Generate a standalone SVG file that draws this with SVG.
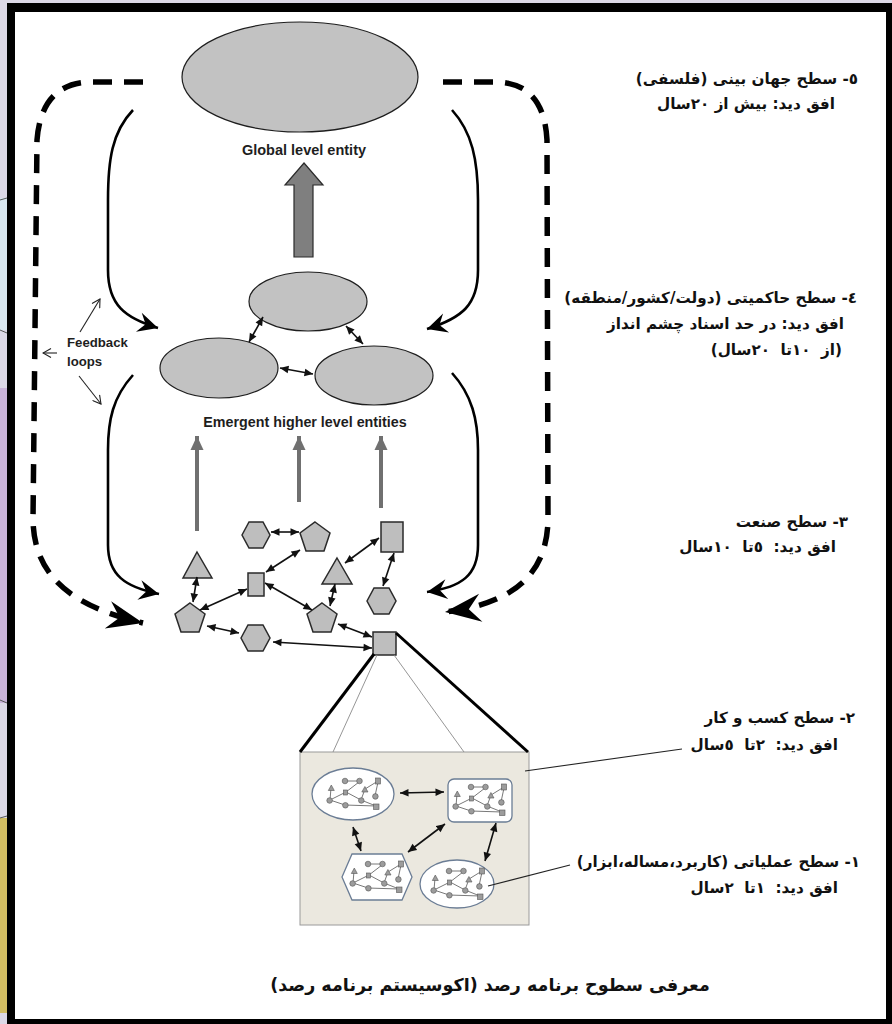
<svg xmlns="http://www.w3.org/2000/svg" width="892" height="1024" viewBox="0 0 892 1024">
<style>
.ell{fill:#c2c2c2;stroke:#1e1e1e;stroke-width:1.2}
.shp{fill:#bebebe;stroke:#2a2a2a;stroke-width:1.5}
.dbl{stroke:#111;stroke-width:1.6;fill:none;marker-start:url(#ah);marker-end:url(#ah)}
.dash{stroke:#000;stroke-width:5.5;fill:none;stroke-dasharray:19 12}
.solid{stroke:#000;stroke-width:2.6;fill:none;marker-end:url(#barb)}
.up{stroke:#707070;stroke-width:4;marker-end:url(#gh)}
.thin{stroke:#222;stroke-width:1.1;fill:none;marker-end:url(#open)}
.en{font-family:"Liberation Sans",Arial,sans-serif;font-weight:bold;fill:#1e1e1e}
.fa{font-family:"DejaVu Sans","Noto Sans",sans-serif;font-weight:bold;font-size:15.2px;fill:#111}
.cl{fill:#fff;stroke:#6b7d95;stroke-width:1.3}
.mn{stroke:#555;stroke-width:0.8;fill:none}
.md{fill:#9c9c9c;stroke:#555;stroke-width:0.6}
</style>
<defs>
<marker id="ah" markerUnits="userSpaceOnUse" viewBox="-9 -4.5 10 9" markerWidth="10" markerHeight="9" refX="0" refY="0" orient="auto-start-reverse"><path d="M0,0 L-8.5,-3.8 L-8.5,3.8 Z" fill="#111"/></marker>
<marker id="barb" markerUnits="userSpaceOnUse" viewBox="-22 -11 24 22" markerWidth="24" markerHeight="22" refX="0" refY="0" orient="auto"><path d="M0,0 L-20,-10 L-13,0 L-20,10 Z" fill="#000"/></marker>
<marker id="big" markerUnits="userSpaceOnUse" viewBox="-40 -16 42 32" markerWidth="42" markerHeight="32" refX="0" refY="0" orient="auto"><path d="M0,0 L-36,-14 L-24,0 L-36,14 Z" fill="#000"/></marker>
<marker id="gh" markerUnits="userSpaceOnUse" viewBox="-15 -7 16 14" markerWidth="16" markerHeight="14" refX="0" refY="0" orient="auto"><path d="M0,0 L-14,-6.5 L-14,6.5 Z" fill="#707070"/></marker>
<marker id="open" markerUnits="userSpaceOnUse" viewBox="-9 -5 10 10" markerWidth="10" markerHeight="10" refX="0" refY="0" orient="auto"><path d="M-8,-4.5 L0,0 L-8,4.5" fill="none" stroke="#222" stroke-width="1.1"/></marker>
<symbol id="mini" viewBox="0 0 56 34" width="56" height="34">
<g class="mn">
<path d="M19,4 L33,4 M33,5 L20,15 M52,4 L39,12 M52,5 L49,19 M5,11 L4,23 M20,15 L4,23 M20,15 L35,23 M39,12 L35,23 M4,23 L19,28 M35,23 L50,29 M19,28 L50,29"/>
</g>
<g class="md">
<circle cx="19" cy="4" r="2.8"/><circle cx="33.5" cy="4" r="2.8"/><rect x="49.5" y="1" width="5" height="6"/>
<path d="M5.3,8 L8.3,13.5 L2.3,13.5 Z"/><rect x="17.5" y="13" width="4" height="5"/><path d="M38.9,9.5 L42,15 L35.8,15 Z"/>
<circle cx="49.4" cy="19.4" r="2.8"/><circle cx="3.6" cy="23.5" r="2.8"/><circle cx="35.3" cy="23.5" r="2.8"/>
<circle cx="19.4" cy="28.3" r="2.8"/><rect x="47.5" y="27" width="5.5" height="5.5"/>
</g>
</symbol>
</defs>

<g id="frame">
<rect x="0" y="0" width="892" height="1024" fill="#dcd8e6"/>
<rect x="0" y="198" width="7" height="132" fill="#d9e7f0"/>
<rect x="0" y="388" width="7" height="315" fill="#c9b3d8"/>
<rect x="0" y="818" width="7" height="195" fill="#d2bd62"/>
<path d="M0,200 L7,198 M0,330 L7,333 M0,700 L7,703 M0,818 L7,816" stroke="#555" stroke-width="1"/>
<rect x="7" y="3" width="885" height="1021" fill="#000"/>
<rect x="15" y="12" width="871" height="1007" fill="#fff"/>
</g>

<g id="global-entity">
<ellipse class="ell" cx="300" cy="77" rx="118" ry="55"/>
<text class="en" x="304" y="155" font-size="14.5" text-anchor="middle">Global level entity</text>
</g>
<g id="global-arrow">
<polygon points="304,163 323,185 313,185 313,257 294,257 294,185 285,185" fill="#7f7f7f" stroke="#2a2a2a" stroke-width="1.2"/>
</g>
<g id="emergent-top"><ellipse class="ell" cx="308" cy="301.5" rx="59" ry="29.5"/></g>
<g id="emergent-left"><ellipse class="ell" cx="219" cy="368" rx="59" ry="30"/></g>
<g id="emergent-right"><ellipse class="ell" cx="374" cy="375.5" rx="59" ry="29.5"/></g>
<g id="emergent-label"><text class="en" x="305" y="427" font-size="14.3" text-anchor="middle">Emergent higher level entities</text></g>
<g id="feedback-label">
<text class="en" x="67" y="347" font-size="13.2" fill="#333">Feedback</text>
<text class="en" x="67" y="366" font-size="13.2" fill="#333">loops</text>
</g>

<g id="hex1"><polygon class="shp" points="242,535 249,522 263,522 270,535 263,548 249,548"/></g>
<g id="pent1"><polygon class="shp" points="315,522 330,533 324,551 306,551 300,533"/></g>
<g id="rectTR"><rect class="shp" x="381" y="522" width="22" height="30"/></g>
<g id="triL"><polygon class="shp" points="197,552 212,578 183,578"/></g>
<g id="rectC"><rect class="shp" x="248" y="573" width="16" height="23"/></g>
<g id="triM"><polygon class="shp" points="337,558 352,584 322,584"/></g>
<g id="hexR"><polygon class="shp" points="367,601 374,588 389,588 396,601 389,614 374,614"/></g>
<g id="pentL"><polygon class="shp" points="190,603 205,614 199,632 181,632 175,614"/></g>
<g id="pentM"><polygon class="shp" points="322,603 337,614 331,632 313,632 307,614"/></g>
<g id="hexB"><polygon class="shp" points="241,638 248,625 263,625 270,638 263,651 248,651"/></g>
<g id="sqB"><rect class="shp" x="373" y="632" width="23" height="23"/></g>

<g id="inset">
<rect x="300" y="752" width="229" height="173" fill="#ebe8df" stroke="#9a9a9a" stroke-width="1"/>
</g>
<g id="cluster-tl"><ellipse class="cl" cx="353" cy="794" rx="41" ry="26"/><use href="#mini" x="326" y="777"/></g>
<g id="cluster-tr"><rect class="cl" x="448" y="779" width="64" height="43" rx="6"/><use href="#mini" x="452" y="783"/></g>
<g id="cluster-bl"><polygon class="cl" points="342,877 352,854 402,854 412,877 402,900 352,900"/><use href="#mini" x="349" y="860"/></g>
<g id="cluster-br"><ellipse class="cl" cx="457" cy="884" rx="37" ry="24"/><use href="#mini" x="430" y="867"/></g>

<g id="connectors">
<path class="dash" d="M143,82 L92,82 C58,82 40,102 37,140 L33,520 C34,575 70,606 143,623" marker-end="url(#big)"/>
<path class="dash" d="M443,82 L495,82 C528,82 545,102 547,140 L548,520 C547,575 512,604 445,612" marker-end="url(#big)"/>
<path class="solid" d="M133,110 C112,132 108,160 108,200 L108,270 C108,305 125,318 158,328"/>
<path class="solid" d="M133,375 C113,397 108,420 108,450 L108,545 C108,575 125,587 159,594"/>
<path class="solid" d="M452,110 C472,132 478,160 478,200 L478,270 C478,305 462,318 427,329"/>
<path class="solid" d="M452,373 C472,395 478,420 478,450 L478,545 C478,575 462,587 427,592"/>
<path class="thin" d="M80,332 L100,299"/>
<path class="thin" d="M57,353 L43,353"/>
<path class="thin" d="M79,376 L101,404"/>
<path d="M263,317 L249,342" class="dbl"/>
<path d="M346,326 L363,344" class="dbl"/>
<path d="M280,368 L313,374" class="dbl"/>
<path d="M197,531 L197,436" class="up"/>
<path d="M299,502 L299,436" class="up"/>
<path d="M381,508 L381,436" class="up"/>
<path d="M271,532 L299,532" class="dbl"/>
<path d="M300,550 L266,572" class="dbl"/>
<path d="M379,538 L345,563" class="dbl"/>
<path d="M394,553 L383,586" class="dbl"/>
<path d="M197,577 L193,602" class="dbl"/>
<path d="M247,589 L200,610" class="dbl"/>
<path d="M265,583 L312,610" class="dbl"/>
<path d="M335,584 L330,606" class="dbl"/>
<path d="M207,626 L239,633" class="dbl"/>
<path d="M338,624 L372,637" class="dbl"/>
<path d="M273,642 L372,648" class="dbl"/>
<path d="M374,654 L300,752" stroke="#000" stroke-width="3"/>
<path d="M396,633 L528,752" stroke="#000" stroke-width="3"/>
<path d="M377,655 L333,752" stroke="#8a8a8a" stroke-width="0.9"/>
<path d="M394,655 L464,752" stroke="#8a8a8a" stroke-width="0.9"/>
<path d="M400,793 L444,792" class="dbl"/>
<path d="M353,827 L361,851" class="dbl"/>
<path d="M445,824 L408,852" class="dbl"/>
<path d="M496,823 L485,861" class="dbl"/>
<path d="M525,771 L682,749" stroke="#222" stroke-width="1.1"/>
<path d="M488,886 L570,865" stroke="#222" stroke-width="1.1"/>
</g>

<g id="level5">
<text class="fa" x="858" y="84" direction="rtl" unicode-bidi="embed">٥- سطح جهان بینی (فلسفی)</text>
<text class="fa" x="835" y="109" direction="rtl" unicode-bidi="embed">افق دید: بیش از ٢٠سال</text>
</g>
<g id="level4">
<text class="fa" x="857" y="303" direction="rtl" unicode-bidi="embed">٤- سطح حاکمیتی (دولت/کشور/منطقه)</text>
<text class="fa" x="844" y="329" direction="rtl" unicode-bidi="embed">افق دید: در حد اسناد چشم انداز</text>
<text class="fa" x="842" y="355" direction="rtl" unicode-bidi="embed" xml:space="preserve">(از  ١٠تا  ٢٠سال)</text>
</g>
<g id="level3">
<text class="fa" x="848" y="527" direction="rtl" unicode-bidi="embed">٣- سطح صنعت</text>
<text class="fa" x="836" y="552" direction="rtl" unicode-bidi="embed" xml:space="preserve">افق دید:  ٥تا  ١٠سال</text>
</g>
<g id="level2">
<text class="fa" x="855" y="723" direction="rtl" unicode-bidi="embed">٢- سطح کسب و کار</text>
<text class="fa" x="838" y="750" direction="rtl" unicode-bidi="embed" xml:space="preserve">افق دید:  ٢تا  ٥سال</text>
</g>
<g id="level1">
<text class="fa" x="860" y="867" direction="rtl" unicode-bidi="embed">١- سطح عملیاتی (کاربرد،مساله،ابزار)</text>
<text class="fa" x="838" y="893" direction="rtl" unicode-bidi="embed" xml:space="preserve">افق دید:  ١تا  ٢سال</text>
</g>
<g id="caption">
<text x="490" y="991" font-family="DejaVu Sans, sans-serif" font-weight="bold" font-size="17.5" fill="#111" text-anchor="middle" direction="rtl" unicode-bidi="embed">معرفی سطوح برنامه رصد (اکوسیستم برنامه رصد)</text>
</g>
</svg>
